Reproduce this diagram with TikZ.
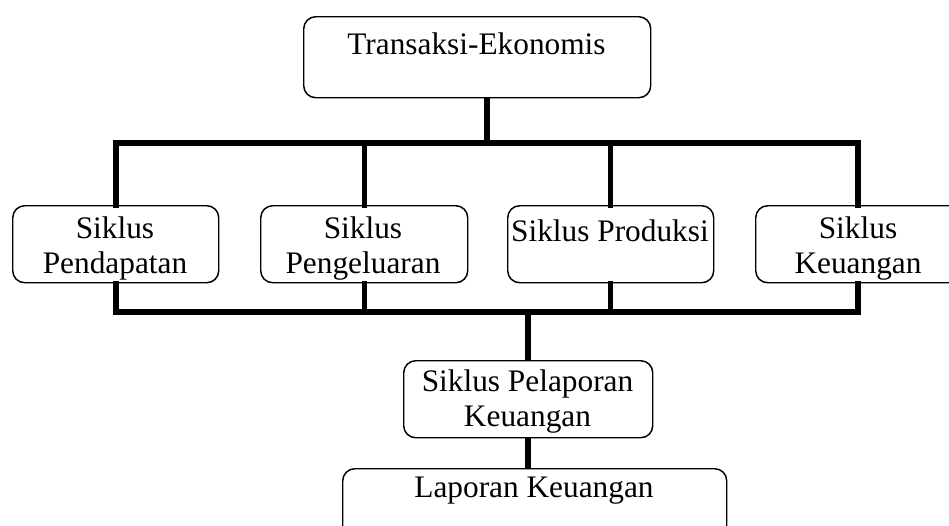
\documentclass[tikz,border=0pt]{standalone}
\usepackage{fontspec}
\setmainfont{Liberation Serif}
\begin{document}
\begin{tikzpicture}[x=0.75pt,y=-0.75pt,
  box/.style={draw, line width=1.1pt, rounded corners=9pt, inner sep=0pt, anchor=north west},
  lbl/.style={inner sep=0pt, anchor=north, align=center, font={\fontsize{23.5}{26.25}\selectfont}},
  bus/.style={line width=3.8pt, line cap=rect}]
\useasboundingbox (0,0) rectangle (949,525);
\begin{scope}
\clip (0,0) rectangle (949,525);
% boxes
\node[box, minimum width=347*0.75pt, minimum height=81*0.75pt] (top) at (303,16) {};
\node[box, minimum width=206*0.75pt, minimum height=77*0.75pt] (b1) at (12,205) {};
\node[box, minimum width=207*0.75pt, minimum height=77*0.75pt] (b2) at (260,205) {};
\node[box, minimum width=206*0.75pt, minimum height=77*0.75pt] (b3) at (507,205) {};
\node[box, minimum width=215*0.75pt, minimum height=77*0.75pt] (b4) at (755,205) {};
\node[box, minimum width=249*0.75pt, minimum height=77*0.75pt] (pel) at (403,360) {};
\node[box, minimum width=384*0.75pt, minimum height=80*0.75pt] (lap) at (342,468) {};
% labels
\node[lbl] (ttop) at (476.5,32) {Transaksi-Ekonomis};
\node[lbl] (t1) at (115,216) {Siklus\\Pendapatan};
\node[lbl] (t2) at (363,216) {Siklus\\Pengeluaran};
\node[lbl] (t3) at (610,219) {Siklus Produksi};
\node[lbl] (t4) at (858,216) {Siklus\\Keuangan};
\node[lbl] (tpel) at (527.5,369) {Siklus Pelaporan\\Keuangan};
\node[lbl] (tlap) at (534,477) {Laporan Keuangan};
% bus coordinates
\coordinate (tbL) at (116,143);
\coordinate (tbR) at (858,143);
\coordinate (bbL) at (116,312);
\coordinate (bbR) at (858,312);
\coordinate (tbM) at (487,143);
\coordinate (bbM) at (528,312);
% connectors
\draw[bus] (tbL) -- (tbR);
\draw[bus] (bbL) -- (bbR);
\draw[bus, line cap=butt] (top.south -| tbM) -- (tbM);
\draw[bus] (tbL) -- (tbL |- b1.north);
\draw[bus] (tbL -| b2.north) -- (b2.north);
\draw[bus] (tbL -| b3.north) -- (b3.north);
\draw[bus] (tbR) -- (tbR |- b4.north);
\draw[bus] (bbL) -- (bbL |- b1.south);
\draw[bus] (bbL -| b2.south) -- (b2.south);
\draw[bus] (bbL -| b3.south) -- (b3.south);
\draw[bus] (bbR) -- (bbR |- b4.south);
\draw[bus, line cap=butt] (bbM) -- (bbM |- pel.north);
\draw[bus, line cap=butt] (pel.south -| bbM) -- (lap.north -| bbM);
\end{scope}
\end{tikzpicture}
\end{document}
